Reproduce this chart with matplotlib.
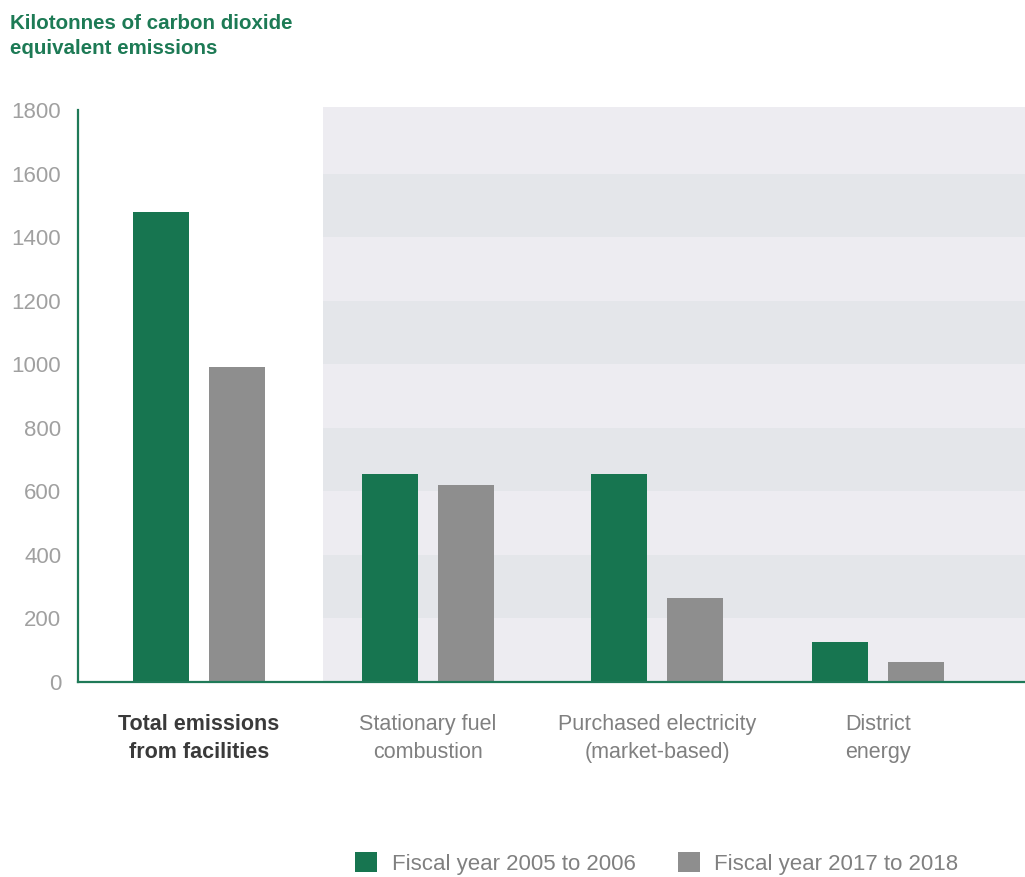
import matplotlib
matplotlib.use("Agg")
import matplotlib.pyplot as plt
from matplotlib.patches import Rectangle

categories = ["Total emissions\nfrom facilities", "Stationary fuel\ncombustion",
              "Purchased electricity\n(market-based)", "District\nenergy"]
fy_2005_2006 = [1480, 655, 655, 125]
fy_2017_2018 = [990, 620, 264, 63]
series_labels = ["Fiscal year 2005 to 2006", "Fiscal year 2017 to 2018"]
yticks = [0, 200, 400, 600, 800, 1000, 1200, 1400, 1600, 1800]

GREEN = "#177550"
GRAY = "#8e8e8e"
AXIS_GREEN = "#1f7a58"
TICK_GRAY = "#a0a0a0"
LABEL_GRAY = "#808080"

plt.rcParams['font.family'] = ['Liberation Sans', 'DejaVu Sans']

fig = plt.figure(figsize=(10.25, 8.77), dpi=100)
ax = fig.add_axes([78/1025, 1-682/877, 1-78/1025, (682-107)/877])

group_x = [0, 1, 2, 2.965]
w = 0.245
off = 0.166

# shaded bands
x0 = 0.541
for i in range(9):
    lo, hi = yticks[i], yticks[i+1]
    col = "#e4e6ea" if i in (1, 3, 5, 7) else "#edecf1"
    if i == 8:
        hi = 1810
    ax.add_patch(Rectangle((x0, lo), 10, hi - lo, facecolor=col, edgecolor="none", zorder=0))

ax.bar([g - off for g in group_x], fy_2005_2006, width=w, color=GREEN, zorder=2, label=series_labels[0])
ax.bar([g + off for g in group_x], fy_2017_2018, width=w, color=GRAY, zorder=2, label=series_labels[1])

ax.set_xlim(-0.528, 3.607)
ax.set_ylim(0, 1810)
for s in ["top", "right"]:
    ax.spines[s].set_visible(False)
ax.spines["left"].set_color(AXIS_GREEN)
ax.spines["bottom"].set_color(AXIS_GREEN)
ax.spines["left"].set_linewidth(1.6)
ax.spines["bottom"].set_linewidth(1.6)
ax.spines["left"].set_bounds(0, 1800)
ax.spines["bottom"].set_zorder(3)

ax.set_yticks(yticks)
ax.set_yticklabels([str(v) for v in yticks], fontsize=16, color=TICK_GRAY)
ax.tick_params(axis="y", length=0, pad=12)
ax.set_xticks(group_x)
ax.set_xticklabels(categories, fontsize=15.5, color=LABEL_GRAY, linespacing=1.45)
ax.tick_params(axis="x", length=0, pad=23)
for i, t in enumerate(ax.get_xticklabels()):
    if i == 0:
        t.set_fontweight("bold")
        t.set_color("#3a3a3a")
ax.set_facecolor("white")

fig.text(10/1025, 1-14/877, "Kilotonnes of carbon dioxide\nequivalent emissions",
         fontsize=14.8, fontweight="bold", color="#1d7a55", va="top", ha="left",
         linespacing=1.4)

leg = fig.legend(loc="lower left", bbox_to_anchor=(335/1025, -0.02), ncol=2, frameon=False,
                 fontsize=16, handlelength=1.0, handleheight=1.0, columnspacing=1.9,
                 handletextpad=0.65, labelcolor=LABEL_GRAY)

fig.savefig("out.png", dpi=100)
